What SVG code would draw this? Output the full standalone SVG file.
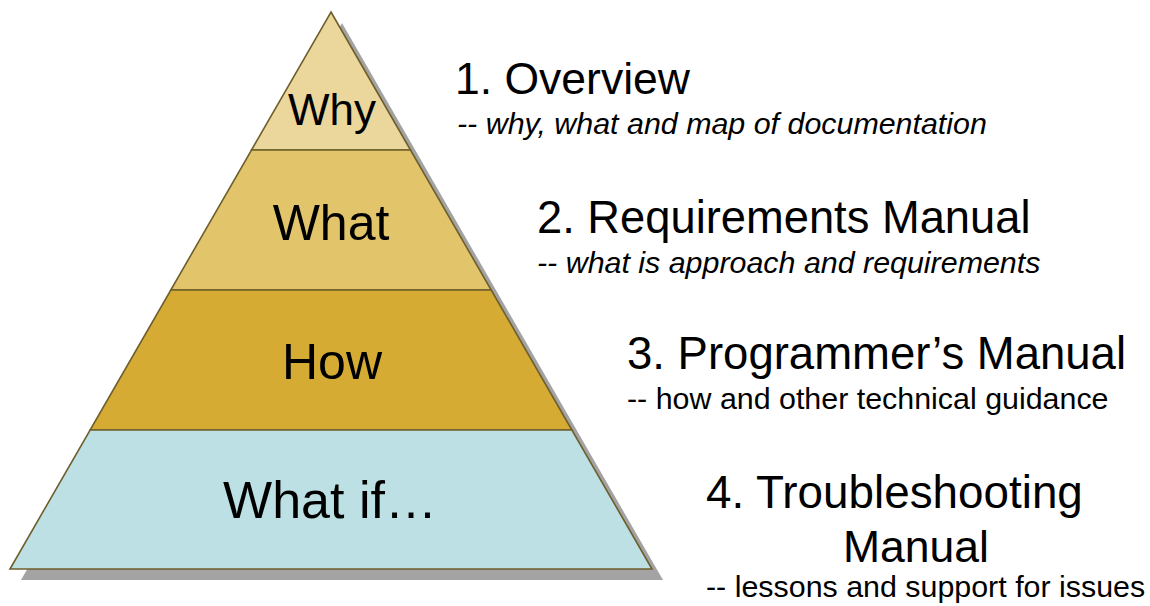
<svg xmlns="http://www.w3.org/2000/svg" width="1150" height="606" viewBox="0 0 1150 606">
<style>
.band{stroke:#6E5F2C;stroke-width:1.6;stroke-linejoin:miter}
.lbl{font-family:"Liberation Sans",Arial,sans-serif;fill:#000;text-anchor:middle}
.ttl{font-family:"Liberation Sans",Arial,sans-serif;fill:#000}
.sub{font-family:"Liberation Sans",Arial,sans-serif;fill:#000;font-size:30.4px}
.it{font-style:italic}
</style>
<rect width="1150" height="606" fill="#FFFFFF"/>
<g id="shadow">
<polygon points="342,23 663,580 21,580" fill="#A3A3A3"/>
</g>
<g id="why">
<polygon class="band" points="331,12 410.5,150 251.5,150" fill="#EBD79B"/>
<text class="lbl" x="332" y="125" font-size="44">Why</text>
</g>
<g id="what">
<polygon class="band" points="251.5,150 410.5,150 491.2,290 170.8,290" fill="#E2C46B"/>
<text class="lbl" x="331" y="240" font-size="50">What</text>
</g>
<g id="how">
<polygon class="band" points="170.8,290 491.2,290 571.9,430 90.1,430" fill="#D6AB34"/>
<text class="lbl" x="332" y="379" font-size="50">How</text>
</g>
<g id="whatif">
<polygon class="band" points="90.1,430 571.9,430 652,569 10,569" fill="#BCE0E3"/>
<text class="lbl" x="330" y="518" font-size="52">What if…</text>
</g>
<g id="connectors"></g>
<g id="overview">
<text class="ttl" x="455" y="94" font-size="44.5">1. Overview</text>
<text class="sub it" x="457" y="134" font-size="30.8">-- why, what and map of documentation</text>
</g>
<g id="requirements">
<text class="ttl" x="537" y="233" font-size="45.3">2. Requirements Manual</text>
<text class="sub it" x="537" y="273" font-size="30.6">-- what is approach and requirements</text>
</g>
<g id="programmers">
<text class="ttl" x="627" y="369" font-size="45.5">3. Programmer’s Manual</text>
<text class="sub" x="627" y="409">-- how and other technical guidance</text>
</g>
<g id="troubleshooting">
<text class="ttl" x="706" y="508" font-size="45.8">4. Troubleshooting</text>
<text class="ttl" x="916" y="562" font-size="44.5" text-anchor="middle">Manual</text>
<text class="sub" x="706" y="597">-- lessons and support for issues</text>
</g>
</svg>
